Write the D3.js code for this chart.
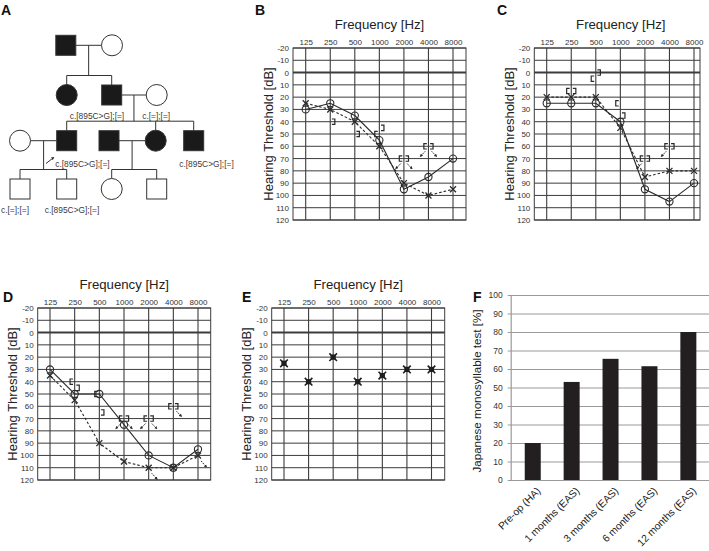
<!DOCTYPE html>
<html><head><meta charset="utf-8">
<script src="https://cdn.jsdelivr.net/npm/d3@7"></script>
<style>body{margin:0;background:#fff} svg{display:block;font-family:"Liberation Sans",Arial,sans-serif}</style>
</head><body><svg id="c" width="709" height="551"></svg>
<script>
// ---------- DATA ----------
const freqs = ["125","250","500","1000","2000","4000","8000"];
const dbTicks = d3.range(-20, 121, 10);

// Panel B
const bRightAir = [30,25,35,55,95,85,70];
const bLeftAir  = [25,30,40,60,90,100,95];
const bRightBone = [{f:"1000",db:50},{f:"2000",db:70,nr:true},{f:"4000",db:60,nr:true}];
const bLeftBone  = [{f:"250",db:40},{f:"500",db:50},{f:"1000",db:45},{f:"2000",db:70,nr:true},{f:"4000",db:60,nr:true}];
// Panel C
const cRightAir = [25,25,25,40,95,105,90];
const cLeftAir  = [20,20,20,45,85,80,80];
const cRightBone = [{f:"250",db:15},{f:"500",db:5},{f:"1000",db:25},{f:"2000",db:70,nr:true},{f:"4000",db:60,nr:true}];
const cLeftBone  = [{f:"250",db:15},{f:"500",db:0},{f:"1000",db:35},{f:"2000",db:70},{f:"4000",db:60}];
// Panel D
const dRightAir = [30,50,50,75,100,110,95];
const dLeftAir  = [35,55,90,105,110,110,100];
const dLeftAirNR = ["2000","8000"];
const dRightBone = [{f:"250",db:40},{f:"500",db:50},{f:"1000",db:70,nr:true},{f:"2000",db:70,nr:true},{f:"4000",db:60}];
const dLeftBone  = [{f:"250",db:45},{f:"500",db:65},{f:"1000",db:70,nr:true},{f:"2000",db:70,nr:true},{f:"4000",db:60,nr:true}];
// Panel E
const eAided = [25,40,20,40,35,30,30];
// Panel F
const fCategories = ["Pre-op (HA)","1 months (EAS)","3 months (EAS)","6 months (EAS)","12 months (EAS)"];
const fValues = [20,53,65.5,61.5,80];
const fTicks = d3.range(0, 101, 10);

// Panel A pedigree
const pedMembers = [
 {id:"I1",  gen:1, pos:65.8,  sex:"M", aff:true},
 {id:"I2",  gen:1, pos:112,   sex:"F", aff:false},
 {id:"II1", gen:2, pos:66.7,  sex:"F", aff:true},
 {id:"II2", gen:2, pos:111.7, sex:"M", aff:true,  label:"c.[895C>G];[=]"},
 {id:"II3", gen:2, pos:156.7, sex:"F", aff:false, label:"c.[=];[=]"},
 {id:"III1",gen:3, pos:20,    sex:"F", aff:false},
 {id:"III2",gen:3, pos:66.7,  sex:"M", aff:true,  label:"c.[895C>G];[=]", proband:true},
 {id:"III3",gen:3, pos:109,   sex:"M", aff:true},
 {id:"III4",gen:3, pos:155.7, sex:"F", aff:true},
 {id:"III5",gen:3, pos:193.7, sex:"M", aff:true,  label:"c.[895C>G];[=]"},
 {id:"IV1", gen:4, pos:20,    sex:"M", aff:false, label:"c.[=];[=]"},
 {id:"IV2", gen:4, pos:66.7,  sex:"M", aff:false, label:"c.[895C>G];[=]"},
 {id:"IV3", gen:4, pos:111.7, sex:"F", aff:false},
 {id:"IV4", gen:4, pos:156.7, sex:"M", aff:false}
];
const pedCouples = [
 {a:"I1", b:"I2", kids:["II1","II2"]},
 {a:"II2", b:"II3", kids:["III2","III4","III5"]},
 {a:"III1", b:"III2", kids:["IV1","IV2"]},
 {a:"III3", b:"III4", kids:["IV3","IV4"]}
];
// label layout (anchor, dx, dy from symbol centre)
const pedLabelLayout = {
 II2:["end",12.5,21], II3:["middle",-0.5,21], III2:["start",-11.5,22.8],
 III5:["middle",12.8,22.8], IV1:["middle",-5,21.2], IV2:["middle",5.3,21.2]
};

// ---------- DRAW ----------
const svg = d3.select("#c");
const ink = "#2a2a2a";
const defs = svg.append("defs");
defs.append("marker").attr("id","ah").attr("viewBox","0 0 6 6").attr("refX",3).attr("refY",3)
  .attr("markerWidth",3.2).attr("markerHeight",3.2).attr("orient","auto")
  .append("path").attr("d","M0,0L6,3L0,6z").attr("fill",ink);

function letter(x, y, t){
  svg.append("text").attr("x",x).attr("y",y).text(t)
    .attr("font-size",14).attr("font-weight","bold").attr("fill","#111");
}

// ===== Panel A =====
(function(){
  const g = svg.append("g");
  const genY = d3.scaleOrdinal().domain([1,2,3,4]).range([45.3,95,140.7,189]);
  const px = d3.scaleLinear().domain([0,240]).range([0,240]);
  const byId = Object.fromEntries(pedMembers.map(d=>[d.id,d]));
  const S = 20, R = 10.5;
  const half = d => d.sex==="M" ? S/2 : R;
  const line = (x1,y1,x2,y2) => g.append("line").attr("x1",x1).attr("y1",y1).attr("x2",x2).attr("y2",y2)
      .attr("stroke","#333").attr("stroke-width",1);
  pedCouples.forEach(c=>{
    const a = byId[c.a], b = byId[c.b];
    const y = genY(a.gen);
    const xa = px(a.pos)+half(a), xb = px(b.pos)-half(b);
    line(xa,y,xb,y);
    const mx = (xa+xb)/2;
    const kids = c.kids.map(k=>byId[k]);
    const ky = genY(kids[0].gen);
    const sy = ky - 19.5;
    line(mx,y,mx,sy);
    const xs = kids.map(k=>px(k.pos));
    line(Math.min(...xs,mx),sy,Math.max(...xs,mx),sy);
    kids.forEach(k=>line(px(k.pos),sy,px(k.pos),ky-half(k)));
  });
  pedMembers.forEach(d=>{
    const x = px(d.pos), y = genY(d.gen);
    const fill = d.aff ? "#1a1a1a" : "#fff";
    if(d.sex==="M") g.append("rect").attr("x",x-S/2).attr("y",y-S/2).attr("width",S).attr("height",S)
        .attr("fill",fill).attr("stroke","#333");
    else g.append("circle").attr("cx",x).attr("cy",y).attr("r",R).attr("fill",fill).attr("stroke","#333");
    if(d.label){
      const L = pedLabelLayout[d.id];
      g.append("text").attr("x",x+L[1]).attr("y",y+L[2]).attr("text-anchor",L[0])
        .attr("dominant-baseline","central").attr("font-size",8.4).attr("fill","#3a3a3a").text(d.label);
    }
    if(d.proband){
      g.append("line").attr("x1",x-20.7).attr("y1",y+22.8).attr("x2",x-13.6).attr("y2",y+17.2)
        .attr("stroke","#333").attr("stroke-width",1).attr("marker-end","url(#ah)");
    }
  });
  letter(1,15,"A");
})();

// ===== Audiograms =====
function audiogram(cfg){
  const g = svg.append("g");
  const x = d3.scalePoint().domain(freqs).range([cfg.x0, cfg.x1]);
  const y = d3.scaleLinear().domain([-20,120]).range([cfg.top, cfg.bottom]);
  g.selectAll(null).data(dbTicks).join("line")
    .attr("x1",cfg.left).attr("x2",cfg.right).attr("y1",d=>y(d)).attr("y2",d=>y(d))
    .attr("stroke","#3c3c3c").attr("stroke-width",d=>d===0?2:1);
  g.selectAll(null).data(freqs).join("line")
    .attr("x1",d=>x(d)).attr("x2",d=>x(d)).attr("y1",cfg.top).attr("y2",cfg.bottom)
    .attr("stroke","#3c3c3c").attr("stroke-width",1.1);
  g.append("rect").attr("x",cfg.left).attr("y",cfg.top).attr("width",cfg.right-cfg.left)
    .attr("height",cfg.bottom-cfg.top).attr("fill","none").attr("stroke","#3c3c3c");
  const ya = g.append("g").attr("transform",`translate(${cfg.left},0)`)
    .call(d3.axisLeft(y).tickValues(dbTicks).tickFormat(d=>String(d)).tickSize(0).tickPadding(4));
  ya.select(".domain").remove();
  ya.attr("font-family",null);
  ya.selectAll("text").attr("font-size",8).attr("fill","#333");
  const xa = g.append("g").attr("transform",`translate(0,${cfg.top})`)
    .call(d3.axisTop(x).tickSize(0).tickPadding(3.5));
  xa.select(".domain").remove();
  xa.attr("font-family",null);
  xa.selectAll("text").attr("font-size",8).attr("fill","#333");
  g.append("text").attr("x",(cfg.left+Math.max(cfg.right, cfg.left+173))/2).attr("y",cfg.top-19)
    .attr("text-anchor","middle").attr("font-size",13.2).attr("fill","#222").text("Frequency [Hz]");
  g.append("text").attr("transform",`translate(${cfg.left-25},${(cfg.top+cfg.bottom)/2}) rotate(-90)`)
    .attr("text-anchor","middle").attr("dominant-baseline","central").attr("font-size",13)
    .attr("fill","#222").text("Hearing Threshold [dB]");
  letter(cfg.lx, cfg.ly, cfg.letter);
  return {g,x,y};
}

function nrArrow(g, x1,y1,x2,y2){
  g.append("line").attr("x1",x1).attr("y1",y1).attr("x2",x2).attr("y2",y2)
    .attr("stroke",ink).attr("stroke-width",1).attr("stroke-dasharray","1.6,1")
    .attr("marker-end","url(#ah)");
}
function airSeries(A, vals, kind, nrList){
  const {g,x,y} = A;
  const pts = freqs.map((f,i)=>[x(f), y(vals[i]), f]);
  g.append("path").attr("d",d3.line()(pts.map(p=>[p[0],p[1]]))).attr("fill","none")
    .attr("stroke",ink).attr("stroke-width",1.1)
    .attr("stroke-dasharray", kind==="X" ? "2.6,2" : null);
  pts.forEach(p=>{
    if(kind==="O"){
      g.append("circle").attr("cx",p[0]).attr("cy",p[1]).attr("r",3.6)
        .attr("fill","none").attr("stroke",ink).attr("stroke-width",1.1);
    } else {
      const s=3;
      g.append("path").attr("d",`M${p[0]-s},${p[1]-s}L${p[0]+s},${p[1]+s}M${p[0]-s},${p[1]+s}L${p[0]+s},${p[1]-s}`)
        .attr("stroke",ink).attr("stroke-width",1.3);
    }
    if(nrList && nrList.includes(p[2])) nrArrow(g,p[0]+3,p[1]+5.5,p[0]+8,p[1]+11);
  });
}
function boneSeries(A, arr, side){ // side -1 = "[" right ear, +1 = "]" left ear
  const {g,x,y} = A;
  const h=2.7;
  arr.forEach(d=>{
    const cx = x(d.f), cy = y(d.db);
    const xi = cx + side*1.6, xo = cx + side*4.6;
    g.append("path").attr("d",`M${xi},${cy-h}H${xo}V${cy+h}H${xi}`)
      .attr("fill","none").attr("stroke",ink).attr("stroke-width",1.2);
    if(d.nr) nrArrow(g, cx+side*3.2, cy+5, cx+side*7.6, cy+9.6);
  });
}

const B = audiogram({left:293,right:466,x0:305.7,x1:453,top:48,bottom:220,letter:"B",lx:255,ly:15});
boneSeries(B,bRightBone,-1); boneSeries(B,bLeftBone,1);
airSeries(B,bLeftAir,"X"); airSeries(B,bRightAir,"O");

const C = audiogram({left:534.3,right:700,x0:546.7,x1:694,top:48,bottom:220,letter:"C",lx:497,ly:15});
boneSeries(C,cRightBone,-1); boneSeries(C,cLeftBone,1);
airSeries(C,cLeftAir,"X"); airSeries(C,cRightAir,"O");

const D = audiogram({left:37.7,right:210.7,x0:50,x1:198,top:308,bottom:480,letter:"D",lx:3,ly:302});
boneSeries(D,dRightBone,-1); boneSeries(D,dLeftBone,1);
airSeries(D,dLeftAir,"X",dLeftAirNR); airSeries(D,dRightAir,"O");

const E = audiogram({left:271.7,right:444.7,x0:284,x1:431.5,top:308,bottom:480,letter:"E",lx:242,ly:302});
(function(){
  const {g,x,y} = E;
  freqs.forEach((f,i)=>{
    const cx=x(f), cy=y(eAided[i]);
    g.append("rect").attr("x",cx-2.6).attr("y",cy-2.6).attr("width",5.2).attr("height",5.2).attr("fill","#1f1f1f");
    const s=3.8;
    g.append("path").attr("d",`M${cx-s},${cy-s}L${cx+s},${cy+s}M${cx-s},${cy+s}L${cx+s},${cy-s}`)
      .attr("stroke","#1f1f1f").attr("stroke-width",1.6);
  });
})();

// ===== Panel F =====
(function(){
  const g = svg.append("g");
  const left = 510.7, right = 709, top = 295, bottom = 480;
  const x = d3.scaleBand().domain(fCategories).range([513.3, 707.8]);
  const y = d3.scaleLinear().domain([0,100]).range([bottom, top]);
  const ya = g.append("g").attr("transform",`translate(${left},0)`)
    .call(d3.axisLeft(y).tickValues(fTicks).tickSizeInner(-(right-left)).tickSizeOuter(0).tickPadding(8));
  ya.attr("font-family",null);
  ya.select(".domain").attr("stroke","#9a9a9a").attr("stroke-width",1.2);
  ya.selectAll(".tick line").attr("stroke","#9a9a9a").attr("stroke-width",1.2).attr("x1",-3);
  ya.selectAll("text").attr("font-size",8.5).attr("fill","#333");
  g.selectAll(null).data(fCategories).join("rect")
    .attr("x",d=>x(d)+x.bandwidth()/2-8).attr("width",16)
    .attr("y",(d,i)=>y(fValues[i])).attr("height",(d,i)=>bottom-y(fValues[i]))
    .attr("fill","#231f20");
  g.selectAll(null).data(fCategories).join("text")
    .attr("transform",d=>`translate(${x(d)+x.bandwidth()/2+6},${bottom+9}) rotate(-45)`)
    .attr("text-anchor","end").attr("dominant-baseline","central")
    .attr("font-size",10.3).attr("fill","#222").text(d=>d);
  g.append("text").attr("transform",`translate(476,391) rotate(-90)`)
    .attr("text-anchor","middle").attr("dominant-baseline","central").attr("font-size",11.6)
    .attr("fill","#222").text("Japanese monosyllable test [%]");
  letter(473,302,"F");
})();
</script></body></html>
